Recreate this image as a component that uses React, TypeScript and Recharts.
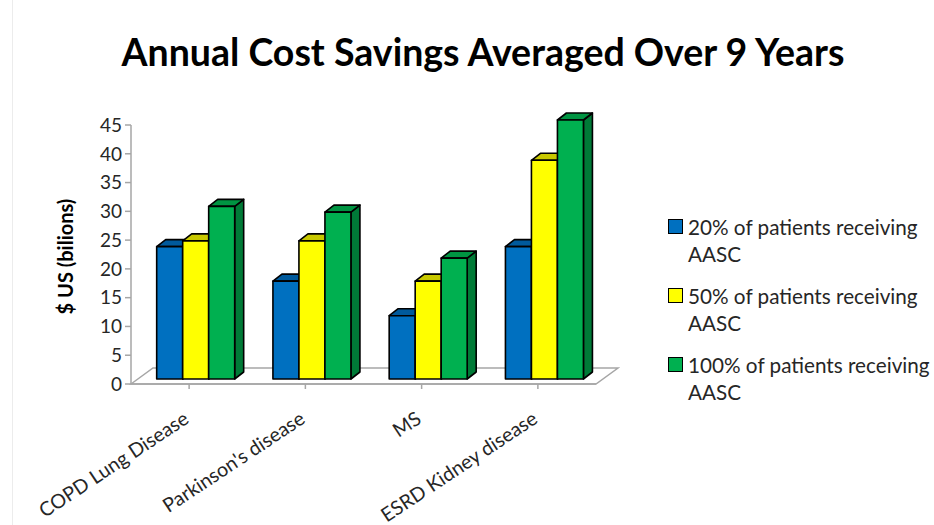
import React from 'react';
import { BarChart, Bar, XAxis, YAxis, Legend, usePlotArea } from 'recharts';

const categories = ['COPD Lung Disease', "Parkinson's disease", 'MS', 'ESRD Kidney disease'];
const patients20 = [23, 17, 11, 23];
const patients50 = [24, 24, 17, 38];
const patients100 = [30, 29, 21, 45];
const yTicks = [0, 5, 10, 15, 20, 25, 30, 35, 40, 45];

const chartData = categories.map((name, i) => ({
  name,
  p20: patients20[i],
  p50: patients50[i],
  p100: patients100[i],
}));

const FONT = 'Lato, sans-serif';
const AXIS_COLOR = '#a6a6a6';
const TEXT_COLOR = '#262626';
const DEPTH_X = 9;
const DEPTH_Y = 7;
const SHIFT_X = 6.5;
const SHIFT_Y = -5;

// fake 3D box, geometry comes from the bar rectangle recharts hands over
const Bar3D = (props: any) => {
  const { x, y, width, height, fill, topFill, sideFill } = props;
  const l = x + SHIFT_X;
  const t = y + SHIFT_Y;
  const r = l + width;
  const b = t + height;
  return (
    <g stroke="#000" strokeWidth={1.6} strokeLinejoin="round">
      <polygon
        points={`${r},${t} ${r + DEPTH_X},${t - DEPTH_Y} ${r + DEPTH_X},${b - DEPTH_Y} ${r},${b}`}
        fill={sideFill}
      />
      <polygon
        points={`${l},${t} ${l + DEPTH_X},${t - DEPTH_Y} ${r + DEPTH_X},${t - DEPTH_Y} ${r},${t}`}
        fill={topFill}
      />
      <rect x={l} y={t} width={width} height={height} fill={fill} />
    </g>
  );
};

// floor of the 3D chart
const Floor = () => {
  const area = usePlotArea();
  if (!area) return null;
  const left = area.x;
  const right = area.x + area.width;
  const bottom = area.y + area.height;
  return (
    <polygon
      points={`${left},${bottom} ${left + 22},${bottom - 16} ${right + 22},${bottom - 16} ${right},${bottom}`}
      fill="none"
      stroke={AXIS_COLOR}
      strokeWidth={1.5}
    />
  );
};

const CategoryTick = (props: any) => {
  const { x, y, payload } = props;
  const tx = x + 1;
  const ty = y + 31;
  return (
    <text
      x={tx}
      y={ty}
      textAnchor="end"
      transform={`rotate(-33.5 ${tx} ${ty})`}
      fontFamily={FONT}
      fontSize={19.7}
      fill={TEXT_COLOR}
    >
      {payload.value}
    </text>
  );
};

const renderLegend = (props: any) => (
  <div style={{ fontFamily: FONT, fontSize: 20.7, lineHeight: '27px', color: TEXT_COLOR }}>
    {props.payload.map((entry: any) => (
      <div key={entry.value} style={{ position: 'relative', paddingLeft: 20, marginBottom: 15 }}>
        <span
          style={{
            position: 'absolute',
            left: 0,
            top: 5,
            width: 13,
            height: 13,
            background: entry.color,
            border: '1.3px solid #000',
          }}
        />
        {entry.value}
      </div>
    ))}
  </div>
);

export default function App() {
  return (
    <div style={{ position: 'absolute', left: 0, top: 0, width: 934, height: 525, background: '#fff', overflow: 'hidden' }}>
      <div style={{ position: 'absolute', left: 12, top: 0, width: 1, height: 525, background: '#ececec' }} />
      <div
        style={{
          position: 'absolute',
          left: 0,
          top: 29,
          width: 966,
          textAlign: 'center',
          fontFamily: FONT,
          fontWeight: 700,
          fontSize: 37.5,
          color: '#000',
        }}
      >
        Annual Cost Savings Averaged Over 9 Years
      </div>
      <BarChart
        width={934}
        height={525}
        data={chartData}
        margin={{ top: 125, right: 72, left: 0, bottom: 0 }}
        barCategoryGap="16.5%"
        barGap={0}
        style={{ position: 'absolute', left: 0, top: 0 }}
      >
        <Floor />
        <XAxis
          dataKey="name"
          height={141}
          interval={0}
          stroke={AXIS_COLOR}
          strokeWidth={1.5}
          tickSize={5}
          tick={<CategoryTick />}
          tickLine={{ stroke: AXIS_COLOR, strokeWidth: 1.5 }}
        />
        <YAxis
          width={131}
          domain={[0, 45]}
          ticks={yTicks}
          stroke={AXIS_COLOR}
          strokeWidth={1.5}
          tickSize={6}
          tickMargin={3}
          tick={{ fontFamily: FONT, fontSize: 19, fill: TEXT_COLOR }}
          tickLine={{ stroke: AXIS_COLOR, strokeWidth: 1.5 }}
          label={{
            value: '$ US (bilions)',
            angle: -90,
            position: 'insideLeft',
            dx: 61,
            dy: 2,
            style: { fontFamily: FONT, fontSize: 20, fontWeight: 700, fill: '#000', textAnchor: 'middle' },
          }}
        />
        <Legend
          layout="vertical"
          align="right"
          verticalAlign="top"
          width={266}
          itemSorter={null}
          content={renderLegend}
          wrapperStyle={{ left: 668, top: 214 }}
        />
        <Bar
          dataKey="p20"
          name="20% of patients receiving AASC"
          fill="#0070C0"
          isAnimationActive={false}
          shape={(p: any) => <Bar3D {...p} fill="#0070C0" topFill="#005a9c" sideFill="#004f8a" />}
        />
        <Bar
          dataKey="p50"
          name="50% of patients receiving AASC"
          fill="#FFFF00"
          isAnimationActive={false}
          shape={(p: any) => <Bar3D {...p} fill="#FFFF00" topFill="#c8c800" sideFill="#a8a800" />}
        />
        <Bar
          dataKey="p100"
          name="100% of patients receiving AASC"
          fill="#00B050"
          isAnimationActive={false}
          shape={(p: any) => <Bar3D {...p} fill="#00B050" topFill="#009442" sideFill="#007a37" />}
        />
      </BarChart>
    </div>
  );
}
